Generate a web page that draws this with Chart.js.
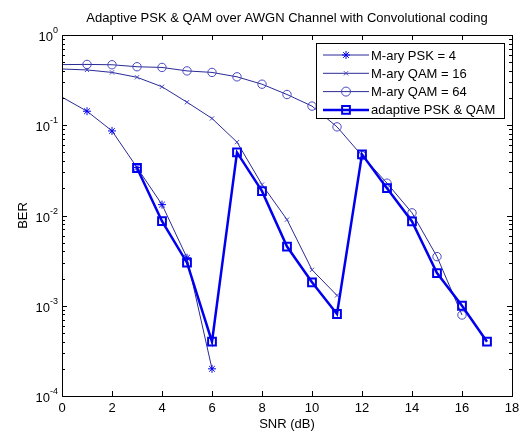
<!DOCTYPE html>
<html>
<head>
<meta charset="utf-8">
<script src="https://cdn.jsdelivr.net/npm/chart.js@4/dist/chart.umd.min.js"></script>
<style>
  html, body { margin: 0; padding: 0; background: #fff; }
  #wrap { width: 521px; height: 432px; }
</style>
</head>
<body>
<div id="wrap"><canvas id="berChart" width="521" height="432"></canvas></div>
<script>
// valores
var snrPsk = [0, 1, 2, 3, 4, 5, 6];
var berPsk = [0.205, 0.143, 0.0865, 0.034, 0.0132, 0.0034, 0.0002];

var snrQam16 = [0, 1, 2, 3, 4, 5, 6, 7, 8, 9, 10, 11];
var berQam16 = [0.42, 0.41, 0.385, 0.34, 0.267, 0.18, 0.119, 0.065, 0.022, 0.009, 0.0025, 0.0013];

var snrQam64 = [0, 1, 2, 3, 4, 5, 6, 7, 8, 9, 10, 11, 12, 13, 14, 15, 16];
var berQam64 = [0.47, 0.472, 0.468, 0.445, 0.437, 0.40, 0.385, 0.344, 0.285, 0.219, 0.163, 0.096, 0.046, 0.0228, 0.0107, 0.0035, 0.00079];

var snrAdapt = [3, 4, 5, 6, 7, 8, 9, 10, 11, 12, 13, 14, 15, 16, 17];
var berAdapt = [0.0336, 0.00865, 0.003, 0.0004, 0.05, 0.0186, 0.00453, 0.00182, 0.00081, 0.0476, 0.0201, 0.0086, 0.0023, 0.001, 0.0004];

var xTicks = [0, 2, 4, 6, 8, 10, 12, 14, 16, 18];
var yExponents = [0, -1, -2, -3, -4];

var seriesNames = ['M-ary PSK = 4', 'M-ary QAM = 16', 'M-ary QAM = 64', 'adaptive PSK & QAM'];

function toPoints(xs, ys) {
    return xs.map(function(x, i) { return { x: x, y: ys[i] }; });
}

// sem marcador no ponto SNR = 0 (fica sobre o eixo)
function radiusFor(r) {
    return function(c) { return c.raw && c.raw.x === 0 ? 0 : r; };
}

var thinColor = '#2a2a96';
var markColor = '#4848c4';
var boldColor = '#0000ee';
var fontFamily = '"Liberation Sans", Arial, sans-serif';
var legendRadius = [4, 3, 4.5, 5.5];

// moldura, ticks internos, rótulos e legenda no estilo MATLAB
var matlabFrame = {
    id: 'matlabFrame',
    afterDraw: function(chart) {
        var ctx = chart.ctx;
        var a = chart.chartArea;
        var xs = chart.scales.x;
        var ys = chart.scales.y;
        ctx.save();
        ctx.strokeStyle = '#000';
        ctx.lineWidth = 1;
        ctx.strokeRect(Math.round(a.left) + 0.5, Math.round(a.top) + 0.5,
                       Math.round(a.right - a.left), Math.round(a.bottom - a.top));

        ctx.beginPath();
        xTicks.forEach(function(v) {
            var px = Math.round(xs.getPixelForValue(v)) + 0.5;
            ctx.moveTo(px, a.bottom); ctx.lineTo(px, a.bottom - 5);
            ctx.moveTo(px, a.top); ctx.lineTo(px, a.top + 5);
        });
        for (var e = -4; e <= 0; e++) {
            for (var m = 1; m <= 9; m++) {
                if (e === 0 && m > 1) break;
                var py = Math.round(ys.getPixelForValue(m * Math.pow(10, e))) + 0.5;
                var len = m === 1 ? 5 : 3;
                ctx.moveTo(a.left, py); ctx.lineTo(a.left + len, py);
                ctx.moveTo(a.right, py); ctx.lineTo(a.right - len, py);
            }
        }
        ctx.stroke();

        // rótulos do eixo x
        ctx.fillStyle = '#000';
        ctx.font = '13px ' + fontFamily;
        ctx.textAlign = 'center';
        ctx.textBaseline = 'top';
        xTicks.forEach(function(v) {
            ctx.fillText(String(v), xs.getPixelForValue(v), a.bottom + 6);
        });
        ctx.fillText('SNR (dB)', (a.left + a.right) / 2, a.bottom + 22);

        // rótulos do eixo y (10 com expoente)
        yExponents.forEach(function(e) {
            var py = ys.getPixelForValue(Math.pow(10, e));
            var exp = String(e);
            ctx.font = '9px ' + fontFamily;
            var ew = ctx.measureText(exp).width;
            ctx.textAlign = 'left';
            ctx.textBaseline = 'alphabetic';
            ctx.fillText(exp, a.left - 4 - ew, py - 2);
            ctx.font = '13px ' + fontFamily;
            ctx.textAlign = 'right';
            ctx.fillText('10', a.left - 4 - ew, py + 6);
        });

        ctx.save();
        ctx.translate(27, (a.top + a.bottom) / 2);
        ctx.rotate(-Math.PI / 2);
        ctx.textAlign = 'center';
        ctx.textBaseline = 'alphabetic';
        ctx.font = '13px ' + fontFamily;
        ctx.fillText('BER', 0, 0);
        ctx.restore();

        // título
        ctx.textAlign = 'center';
        ctx.textBaseline = 'middle';
        ctx.font = '13px ' + fontFamily;
        ctx.fillText('Adaptive PSK & QAM over AWGN Channel with Convolutional coding', (a.left + a.right) / 2, 18);

        // legenda
        var lx = 316, ly = 43, lw = 188, lh = 75;
        ctx.fillStyle = '#fff';
        ctx.fillRect(lx, ly, lw, lh);
        ctx.strokeStyle = '#000';
        ctx.lineWidth = 1;
        ctx.strokeRect(lx + 0.5, ly + 0.5, lw, lh);
        chart.data.datasets.forEach(function(ds, i) {
            var yy = ly + 12 + i * 18.3;
            ctx.strokeStyle = ds.borderColor;
            ctx.lineWidth = ds.borderWidth;
            ctx.beginPath();
            ctx.moveTo(lx + 7, yy); ctx.lineTo(lx + 53, yy);
            ctx.stroke();
            ctx.fillStyle = 'rgba(0,0,0,0)';
            ctx.strokeStyle = ds.pointBorderColor;
            ctx.lineWidth = ds.pointBorderWidth;
            Chart.helpers.drawPoint(ctx, {
                pointStyle: ds.pointStyle,
                radius: legendRadius[i],
                borderWidth: ds.pointBorderWidth
            }, lx + 30, yy);
            ctx.fillStyle = '#000';
            ctx.font = '13px ' + fontFamily;
            ctx.textAlign = 'left';
            ctx.textBaseline = 'middle';
            ctx.fillText(ds.label, lx + 55, yy + 1);
        });
        ctx.restore();
    }
};

var ctx = document.getElementById('berChart').getContext('2d');
var berChart = new Chart(ctx, {
    type: 'line',
    data: {
        datasets: [{
            label: seriesNames[0],
            data: toPoints(snrPsk, berPsk),
            borderColor: thinColor,
            borderWidth: 1,
            pointStyle: 'star',
            pointRadius: radiusFor(4),
            pointBorderColor: boldColor,
            pointBorderWidth: 1,
            pointBackgroundColor: 'rgba(0,0,0,0)',
            order: 3
        }, {
            label: seriesNames[1],
            data: toPoints(snrQam16, berQam16),
            borderColor: thinColor,
            borderWidth: 1,
            pointStyle: 'crossRot',
            pointRadius: radiusFor(3),
            pointBorderColor: markColor,
            pointBorderWidth: 1,
            pointBackgroundColor: 'rgba(0,0,0,0)',
            order: 2
        }, {
            label: seriesNames[2],
            data: toPoints(snrQam64, berQam64),
            borderColor: thinColor,
            borderWidth: 1,
            pointStyle: 'circle',
            pointRadius: radiusFor(4.2),
            pointBorderColor: markColor,
            pointBorderWidth: 1,
            pointBackgroundColor: 'rgba(0,0,0,0)',
            order: 1
        }, {
            label: seriesNames[3],
            data: toPoints(snrAdapt, berAdapt),
            borderColor: boldColor,
            borderWidth: 2.5,
            pointStyle: 'rect',
            pointRadius: 5.5,
            pointBorderColor: boldColor,
            pointBorderWidth: 2,
            pointBackgroundColor: 'rgba(0,0,0,0)',
            order: 0
        }]
    },
    options: {
        responsive: false,
        animation: false,
        layout: { padding: { top: 35, right: 9, left: 0, bottom: 0 } },
        plugins: {
            legend: { display: false },
            title: { display: false },
            tooltip: { enabled: false }
        },
        elements: { line: { tension: 0 } },
        scales: {
            x: {
                type: 'linear',
                min: 0,
                max: 18,
                grid: { display: false },
                border: { display: false },
                ticks: { display: false, stepSize: 2 },
                afterFit: function(scale) { scale.height = 36; }
            },
            y: {
                type: 'logarithmic',
                min: 1e-4,
                max: 1,
                grid: { display: false },
                border: { display: false },
                ticks: { display: false },
                afterFit: function(scale) { scale.width = 62; }
            }
        }
    },
    plugins: [matlabFrame]
});
</script>
</body>
</html>
